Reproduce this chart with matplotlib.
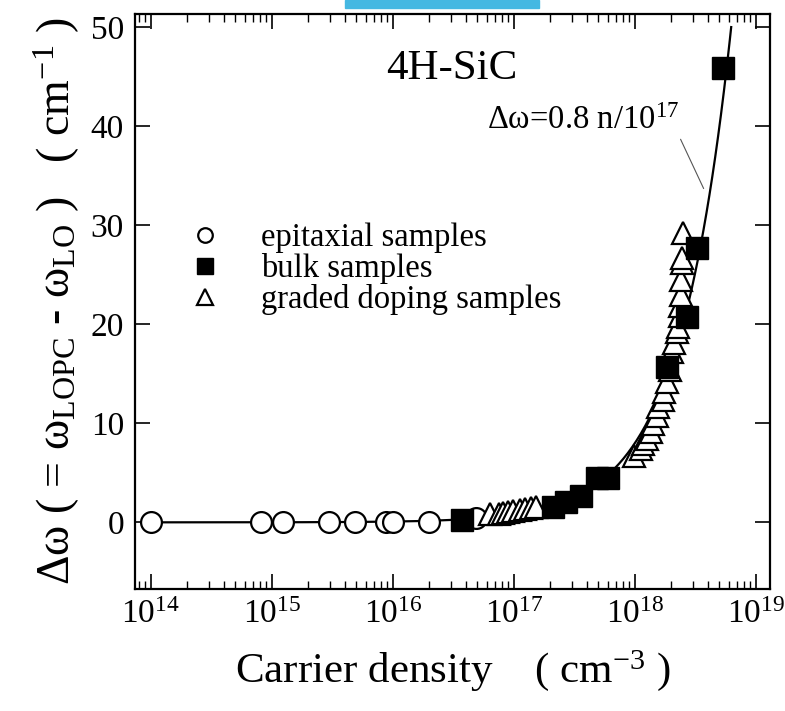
import numpy as np
import matplotlib.pyplot as plt
from matplotlib.patches import Rectangle

# epitaxial samples (circles)
epi_n = [1.0e14, 8.1e14, 1.24e15, 2.95e15, 4.9e15, 8.7e15, 1.0e16, 2.0e16, 4.9e16]
epi_dw = [0.0, 0.0, 0.0, 0.0, 0.0, 0.0, 0.0, 0.0, 0.4]

# bulk samples (filled squares)
bulk_n = [3.7e16, 2.1e17, 2.7e17, 3.6e17, 4.9e17, 6.0e17, 1.86e18, 2.72e18, 3.27e18, 5.3e18]
bulk_dw = [0.2, 1.5, 2.1, 2.7, 4.5, 4.5, 15.7, 20.7, 27.7, 45.9]

# graded doping samples (open triangles)
graded_n = [6.3e16, 7.6e16, 8.1e16, 8.9e16, 9.8e16, 1.12e17, 1.23e17, 1.38e17, 1.51e17,
            9.8e17, 1.12e18, 1.17e18, 1.26e18, 1.35e18, 1.41e18, 1.51e18, 1.55e18,
            1.70e18, 1.74e18, 1.86e18, 1.95e18, 2.04e18, 2.09e18, 2.24e18, 2.29e18,
            2.34e18, 2.34e18, 2.40e18, 2.40e18, 2.45e18, 2.45e18, 2.51e18]
graded_dw = [0.8, 0.8, 0.9, 1.0, 1.1, 1.2, 1.3, 1.4, 1.5,
             6.7, 7.4, 7.9, 8.4, 9.1, 9.9, 10.7, 11.6,
             12.4, 13.2, 14.2, 15.4, 17.2, 18.1, 19.2, 19.7,
             20.8, 21.8, 23.0, 24.5, 26.2, 26.7, 29.2]

# fit line from the figure: dw = 0.8 n / 1e17
fit_coef = 0.8
fit_n_range = (1.0e14, 6.25e18)

x_ticks = [1e14, 1e15, 1e16, 1e17, 1e18, 1e19]
x_tick_labels = ['$10^{14}$', '$10^{15}$', '$10^{16}$', '$10^{17}$', '$10^{18}$', '$10^{19}$']
y_ticks = [0, 10, 20, 30, 40, 50]


def main():
    plt.rcParams['font.family'] = ['Liberation Serif', 'DejaVu Serif']
    plt.rcParams['mathtext.default'] = 'regular'

    fig = plt.figure(figsize=(7.85, 7.11), dpi=100)
    ax = fig.add_axes([0.172, 0.172, 0.809, 0.808])

    # stray blue bar at the top of the reference image
    fig.patches.append(Rectangle((345 / 785, 1 - 8 / 711), 194 / 785, 8 / 711,
                                 transform=fig.transFigure, color='#45b8e2', zorder=0))

    n_fit = np.logspace(np.log10(fit_n_range[0]), np.log10(fit_n_range[1]), 400)
    ax.plot(n_fit, fit_coef * n_fit / 1e17, color='black', lw=1.6, zorder=1)

    ax.plot(epi_n, epi_dw, 'o', ms=15, mfc='white', mec='black', mew=1.6,
            ls='none', label='epitaxial samples', zorder=2)
    ax.plot(bulk_n, bulk_dw, 's', ms=15.5, mfc='black', mec='black', mew=1.0,
            ls='none', label='bulk samples', zorder=4)
    ax.plot(graded_n, graded_dw, '^', ms=16, mfc='white', mec='black', mew=1.6,
            ls='none', label='graded doping samples', zorder=3)

    ax.set_xscale('log')
    ax.set_xlim(7.4e13, 1.31e19)
    ax.set_ylim(-6.7, 51.3)
    ax.set_xticks(x_ticks)
    ax.set_xticklabels(x_tick_labels)
    ax.set_yticks(y_ticks)

    ax.tick_params(which='both', direction='in', top=True, right=True, labelsize=24)
    ax.tick_params(which='major', length=11, width=1.2, pad=8)
    ax.tick_params(which='minor', length=5.5, width=1.0)
    ax.tick_params(axis='y', which='minor', left=False, right=False)
    for s in ax.spines.values():
        s.set_linewidth(1.6)

    ax.set_xlabel('Carrier density    ( cm$^{-3}$ )', fontsize=31, labelpad=13)
    ax.set_ylabel('Δω ( = ω$_{LOPC}$ - ω$_{LO}$ )   ( cm$^{-1}$ )', fontsize=33, labelpad=6)

    ax.text(0.498, 0.905, '4H-SiC', transform=ax.transAxes, fontsize=31,
            ha='center', va='center')

    ax.annotate('Δω=0.8 n/10$^{17}$', xy=(3.7e18, 33.7), xytext=(6.0e16, 40.5),
                fontsize=23.5, va='center', ha='left',
                arrowprops=dict(arrowstyle='-', color='#555555', lw=0.8,
                                shrinkA=0, shrinkB=0, relpos=(1.0, 0.0)))

    ax.legend(loc='center left', bbox_to_anchor=(0.085, 0.557), frameon=False,
              fontsize=23.5, markerscale=0.7, handlelength=1.0, handletextpad=1.2,
              labelspacing=0.0, borderpad=0, borderaxespad=0, numpoints=1)

    fig.savefig('out.png', dpi=100)


if __name__ == '__main__':
    main()
